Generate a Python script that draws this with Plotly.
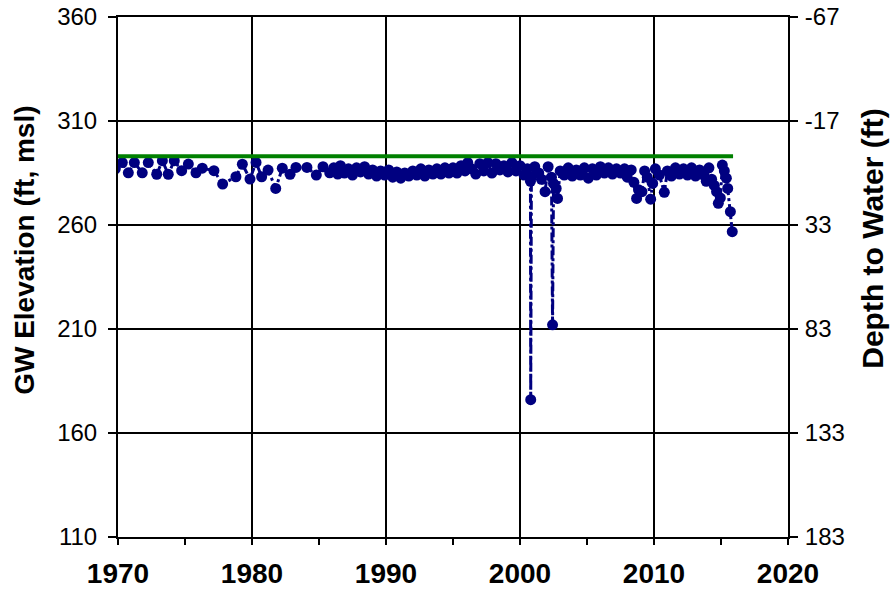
import plotly.graph_objects as go

# Ground surface reference (green line)
ground_years = [1970.0, 2015.9]
ground_elev = [293, 293]

# GW elevation measurements (decimal year, ft msl)
years = [
    1969.8, 1970.32, 1970.77, 1971.22, 1971.81, 1972.26, 1972.89, 1973.31, 1973.75, 1974.2,
    1974.75, 1975.25, 1975.82, 1976.29, 1977.16, 1977.81, 1978.8, 1979.28, 1979.85, 1980.3,
    1980.72, 1981.2, 1981.77, 1982.26, 1982.84, 1983.28, 1984.1, 1984.8, 1985.3, 1985.8,
    1986.1, 1986.4, 1986.6, 1986.9, 1987.2, 1987.5, 1987.8, 1988.1, 1988.4, 1988.7,
    1989.0, 1989.3, 1989.6, 1989.9, 1990.2, 1990.5, 1990.8, 1991.1, 1991.4, 1991.7,
    1992.0, 1992.3, 1992.6, 1992.9, 1993.2, 1993.5, 1993.8, 1994.1, 1994.4, 1994.7,
    1995.0, 1995.3, 1995.6, 1995.9, 1996.1, 1996.4, 1996.7, 1997.0, 1997.3, 1997.6,
    1997.9, 1998.2, 1998.5, 1998.8, 1999.1, 1999.4, 1999.7, 2000.0, 2000.3, 2000.55,
    2000.78, 2000.8, 2000.85, 2001.1, 2001.4, 2001.6, 2001.87, 2002.1, 2002.35, 2002.43,
    2002.5, 2002.7, 2002.8, 2003.0, 2003.3, 2003.6, 2003.9, 2004.2, 2004.5, 2004.8,
    2005.1, 2005.4, 2005.7, 2006.0, 2006.3, 2006.6, 2006.9, 2007.2, 2007.5, 2007.8,
    2008.0, 2008.3, 2008.5, 2008.7, 2008.85, 2009.1, 2009.3, 2009.5, 2009.75, 2009.9,
    2010.1, 2010.4, 2010.77, 2011.0, 2011.3, 2011.6, 2011.9, 2012.2, 2012.5, 2012.8,
    2013.1, 2013.4, 2013.7, 2013.9, 2014.1, 2014.3, 2014.5, 2014.67, 2014.8, 2014.95,
    2015.1, 2015.25, 2015.4, 2015.5, 2015.7, 2015.84,
]
elevation = [
    287.0, 290.0, 285.1, 290.0, 285.1, 290.0, 284.4, 290.9, 284.4, 290.9,
    286.1, 289.3, 285.1, 287.3, 286.1, 279.7, 283.2, 289.2, 282.1, 290.1,
    283.2, 286.4, 277.6, 287.3, 284.4, 287.7, 287.7, 284.0, 288.0, 285.1,
    287.5, 284.5, 288.5, 285.0, 287.0, 284.0, 287.5, 285.5, 288.0, 284.5,
    286.5, 283.5, 286.0, 284.0, 286.5, 283.0, 285.5, 282.5, 285.0, 283.5,
    286.0, 284.0, 287.0, 283.5, 286.5, 284.5, 287.0, 284.5, 287.5, 285.0,
    287.5, 285.0, 288.5, 286.0, 290.0, 287.0, 284.5, 289.5, 286.0, 290.0,
    285.0, 289.5, 286.5, 288.5, 285.5, 290.0, 286.0, 288.5, 284.0, 287.0,
    281.0, 176.0, 283.0, 288.0, 285.0, 282.0, 276.0, 288.0, 283.0, 212.0,
    280.0, 277.6, 272.8, 286.0, 284.0, 287.5, 283.5, 286.5, 284.0, 287.5,
    282.5, 287.0, 284.0, 288.0, 285.0, 287.5, 284.5, 287.0, 285.0, 287.0,
    283.0, 286.5, 280.5, 272.8, 277.0, 276.0, 286.0, 283.0, 272.4, 280.0,
    287.0, 284.0, 275.7, 286.0, 283.5, 287.5, 284.5, 287.0, 284.0, 287.5,
    283.5, 286.5, 284.0, 281.0, 287.5, 282.0, 279.0, 276.0, 270.4, 273.0,
    288.8, 286.0, 282.5, 277.6, 266.4, 256.8,
]

x_ticks = [1970, 1980, 1990, 2000, 2010, 2020]
left_ticks = [110, 160, 210, 260, 310, 360]
right_ticks = [-67, -17, 33, 83, 133, 183]

FONT = "Arial, Liberation Sans, sans-serif"
NAVY = "#000080"

fig = go.Figure()
fig.add_trace(go.Scatter(
    x=years, y=elevation, mode="lines+markers",
    line=dict(color=NAVY, width=3, dash="dashdot"),
    marker=dict(color=NAVY, size=11),
    showlegend=False,
))
fig.add_trace(go.Scatter(
    x=ground_years, y=ground_elev, mode="lines",
    line=dict(color="#008000", width=4),
    showlegend=False,
))
# invisible trace to activate the right-hand depth axis
fig.add_trace(go.Scatter(
    x=[1970, 2020], y=[293 - v for v in [110, 360]], yaxis="y2",
    mode="markers", marker=dict(opacity=0), hoverinfo="skip", showlegend=False,
))

fig.update_layout(
    width=890, height=589,
    margin=dict(l=118, r=102, t=17, b=52),
    paper_bgcolor="white", plot_bgcolor="white",
    font=dict(family=FONT, color="black"),
    xaxis=dict(
        range=[1970, 2020], tickvals=x_ticks, ticktext=[str(t) for t in x_ticks],
        tickfont=dict(size=28, family=FONT, weight="bold"),
        showgrid=True, gridcolor="black", gridwidth=1.5,
        showline=True, linecolor="black", linewidth=2, mirror=True,
        ticks="outside", ticklen=6, tickwidth=1.5, tickcolor="black",
        ticklabelstandoff=4, ticklabeloverflow="allow",
        minor=dict(dtick=5, tick0=1970, ticks="outside", ticklen=6, tickwidth=1.5, tickcolor="black", showgrid=False),
        zeroline=False, automargin=False,
    ),
    yaxis=dict(
        range=[110, 360], tickvals=left_ticks, ticktext=[str(t) for t in left_ticks],
        tickfont=dict(size=24), ticklabelstandoff=6, ticklabeloverflow="allow",
        showgrid=True, gridcolor="black", gridwidth=1.5,
        showline=True, linecolor="black", linewidth=2,
        ticks="outside", ticklen=8, tickwidth=1.5, tickcolor="black",
        zeroline=False, automargin=False,
    ),
    yaxis2=dict(
        overlaying="y", side="right", range=[183, -67],
        tickvals=right_ticks, ticktext=[str(t) for t in right_ticks],
        tickfont=dict(size=24), ticklabelstandoff=2, ticklabeloverflow="allow",
        showgrid=False, showline=True, linecolor="black", linewidth=2,
        ticks="outside", ticklen=8, tickwidth=1.5, tickcolor="black",
        zeroline=False, automargin=False,
    ),
    annotations=[
        dict(text="<b>GW Elevation (ft, msl)</b>", textangle=-90,
             xref="paper", yref="paper", x=-0.139, y=0.552,
             xanchor="center", yanchor="middle", showarrow=False,
             font=dict(size=28, family=FONT)),
        dict(text="<b>Depth to Water (ft)</b>", textangle=-90,
             xref="paper", yref="paper", x=1.125, y=0.575,
             xanchor="center", yanchor="middle", showarrow=False,
             font=dict(size=30, family=FONT)),
    ],
)

fig.write_html("out.html", config={"displayModeBar": False},
               post_script="document.body.style.margin='0px';")
